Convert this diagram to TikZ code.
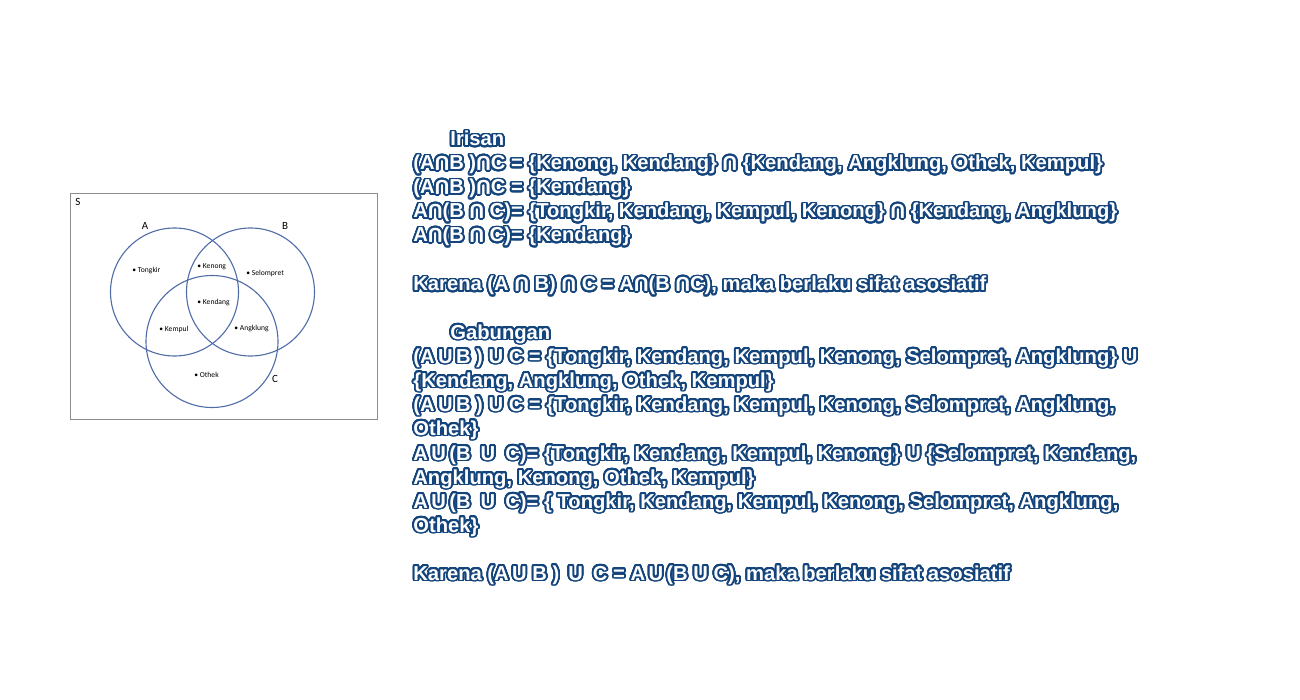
\documentclass[tikz,border=0pt]{standalone}
\usepackage{fontspec}
\usepackage{contour}
\setmainfont{Liberation Sans}
\newfontfamily\venfont{Carlito}
\definecolor{garis}{RGB}{20,68,124}
\definecolor{lingkar}{RGB}{79,108,168}
\contourlength{0.9pt}
\contournumber{32}
\newcommand{\irs}{\rotatebox[origin=c]{180}{U}}

\begin{document}
\begin{tikzpicture}[x=0.5pt, y=-0.5pt,
    himpunan/.style={draw=lingkar, line width=0.55pt},
    anggota/.style={anchor=west, inner sep=0pt, font=\venfont\fontsize{3.8}{4.5}\selectfont},
    namahimp/.style={inner sep=0pt, font=\venfont\fontsize{5.5}{6.5}\selectfont},
    baris/.style={anchor=base west, inner sep=0pt, text=white, font=\bfseries\fontsize{10.1}{11}\selectfont}]
    \useasboundingbox (0,0) rectangle (1300,700);

    \draw[draw=gray!90, line width=0.45pt] (70,193) rectangle (377,419);
    \draw[himpunan] (174.5,292) circle (64);
    \draw[himpunan] (250.5,292) circle (64);
    \draw[himpunan] (212,341.5) circle (66);

    \node[namahimp] (S) at (78,202) {S};
    \node[namahimp] (A) at (145,226) {A};
    \node[namahimp] (B) at (285,226) {B};
    \node[namahimp] (C) at (275,379) {C};

    \node[anggota] (tongkir) at (132,271) {\textbullet\ Tongkir};
    \node[anggota] (kenong) at (197,267) {\textbullet\ Kenong};
    \node[anggota] (selompret) at (246,273) {\textbullet\ Selompret};
    \node[anggota] (kendang) at (197,303) {\textbullet\ Kendang};
    \node[anggota] (kempul) at (159,329) {\textbullet\ Kempul};
    \node[anggota] (angklung) at (234,329) {\textbullet\ Angklung};
    \node[anggota] (othek) at (194,375) {\textbullet\ Othek};

    \node[baris] (irisan) at (450,146) {\contour{garis}{Irisan}};
    \node[baris] (i1) at (413,170) {\contour{garis}{(A\irs B )\irs C = \{Kenong, Kendang\} \irs\ \{Kendang, Angklung, Othek, Kempul\}}};
    \node[baris] (i2) at (413,194) {\contour{garis}{(A\irs B )\irs C = \{Kendang\}}};
    \node[baris] (i3) at (413,218) {\contour{garis}{A\irs(B \irs\ C)= \{Tongkir, Kendang, Kempul, Kenong\} \irs\ \{Kendang, Angklung\}}};
    \node[baris] (i4) at (413,242) {\contour{garis}{A\irs(B \irs\ C)= \{Kendang\}}};
    \node[baris] (i5) at (413,291) {\contour{garis}{Karena (A \irs\ B) \irs\ C = A\irs(B \irs C), maka berlaku sifat asosiatif}};

    \node[baris] (gabungan) at (450,339) {\contour{garis}{Gabungan}};
    \node[baris] (g1) at (413,363) {\contour{garis}{(A\,U\,B ) U C = \{Tongkir, Kendang, Kempul, Kenong, Selompret, Angklung\} U}};
    \node[baris] (g2) at (413,387) {\contour{garis}{\{Kendang, Angklung, Othek, Kempul\}}};
    \node[baris] (g3) at (413,411) {\contour{garis}{(A\,U\,B ) U C = \{Tongkir, Kendang, Kempul, Kenong, Selompret, Angklung,}};
    \node[baris] (g4) at (413,435) {\contour{garis}{Othek\}}};
    \node[baris] (g5) at (413,460) {\contour{garis}{A\,U\,(B\enspace U\enspace C)= \{Tongkir, Kendang, Kempul, Kenong\} U \{Selompret, Kendang,}};
    \node[baris] (g6) at (413,484) {\contour{garis}{Angklung, Kenong, Othek, Kempul\}}};
    \node[baris] (g7) at (413,508) {\contour{garis}{A\,U\,(B\enspace U\enspace C)= \{ Tongkir, Kendang, Kempul, Kenong, Selompret, Angklung,}};
    \node[baris] (g8) at (413,532) {\contour{garis}{Othek\}}};
    \node[baris] (g9) at (413,580) {\contour{garis}{Karena (A\,U B ) \,U\enspace C = A\,U\,(B U C), maka berlaku sifat asosiatif}};
\end{tikzpicture}
\end{document}
